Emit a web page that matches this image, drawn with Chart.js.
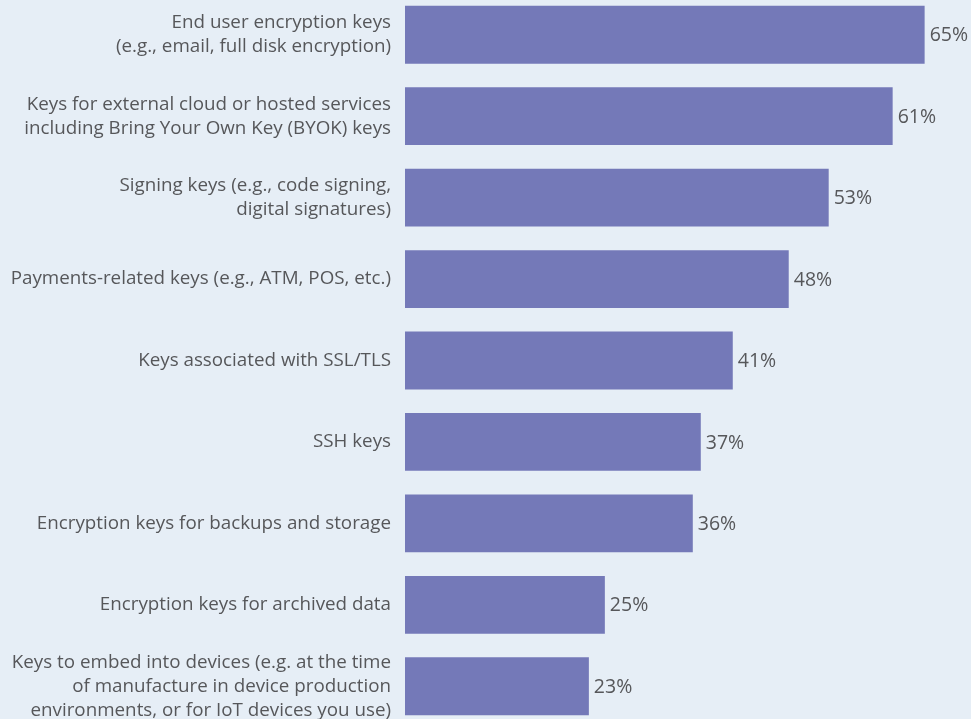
<!DOCTYPE html>
<html>
<head>
<meta charset="utf-8">
<script src="https://cdn.jsdelivr.net/npm/chart.js@4.4.1/dist/chart.umd.min.js"></script>
<style>
  html, body { margin: 0; padding: 0; background: #e6eef6; overflow: hidden; }
  #wrap { position: absolute; left: 0; top: -6px; width: 971px; height: 733px; }
</style>
</head>
<body>
<div id="wrap"><canvas id="chart"></canvas></div>
<script>
// ---- data ----
const labels = [
    ["End user encryption keys", "(e.g., email, full disk encryption)"],
    ["Keys for external cloud or hosted services", "including Bring Your Own Key (BYOK) keys"],
    ["Signing keys (e.g., code signing,", "digital signatures)"],
    "Payments-related keys (e.g., ATM, POS, etc.)",
    "Keys associated with SSL/TLS",
    "SSH keys",
    "Encryption keys for backups and storage",
    "Encryption keys for archived data",
    ["Keys to embed into devices (e.g. at the time", "of manufacture in device production", "environments, or for IoT devices you use)"]
];
const values = [65, 61, 53, 48, 41, 37, 36, 25, 23];

const BAR_COLOR = '#7479b8';
const TEXT_COLOR = '#56575a';
const FONT = '"Open Sans"';

// value labels at the end of each bar
const valueLabels = {
    id: 'valueLabels',
    afterDatasetsDraw(chart) {
        const ctx = chart.ctx;
        const meta = chart.getDatasetMeta(0);
        ctx.save();
        ctx.font = '19.5px ' + FONT;
        ctx.fillStyle = TEXT_COLOR;
        ctx.textAlign = 'left';
        ctx.textBaseline = 'middle';
        meta.data.forEach((bar, i) => {
            ctx.fillText(values[i] + '%', bar.x + 5, bar.y + 1);
        });
        ctx.restore();
    }
};

new Chart(document.getElementById('chart').getContext('2d'), {
    type: 'bar',
    data: {
        labels: labels,
        datasets: [{
            data: values,
            backgroundColor: BAR_COLOR,
            categoryPercentage: 1.0,
            barPercentage: 0.71
        }]
    },
    options: {
        indexAxis: 'y',
        responsive: true, maintainAspectRatio: false,
        animation: false,
        layout: { padding: 0 },
        plugins: { legend: { display: false }, tooltip: { enabled: false } },
        scales: {
            x: {
                display: false,
                min: 0, max: 70.8
            },
            y: {
                grid: { display: false, drawTicks: false },
                border: { display: false },
                ticks: {
                    color: TEXT_COLOR,
                    padding: 14,
                    font: { family: FONT, size: 18.8, lineHeight: 24 / 18.8 }
                },
                afterFit(scale) {
                    scale.width = 405;
                    scale.paddingTop = 0;
                    scale.paddingBottom = 0;
                }
            }
        }
    },
    plugins: [valueLabels]
});
</script>
</body>
</html>
